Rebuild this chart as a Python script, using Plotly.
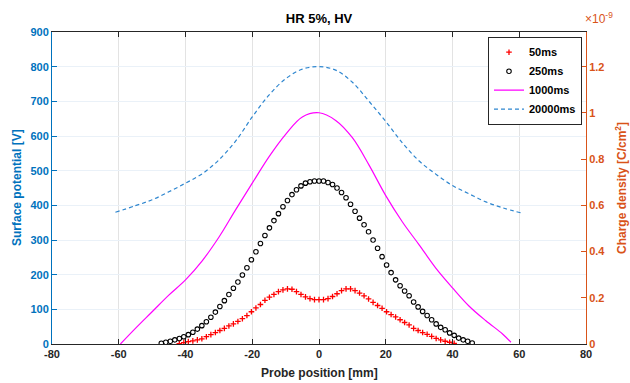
import plotly.graph_objects as go

# ---------------- data ----------------
x_grid = [-47.25, -45.9, -44.55, -43.2, -41.85, -40.5, -39.15, -37.8, -36.45, -35.1,
          -33.75, -32.4, -31.05, -29.7, -28.35, -27.0, -25.65, -24.3, -22.95, -21.6,
          -20.25, -18.9, -17.55, -16.2, -14.85, -13.5, -12.15, -10.8, -9.45, -8.1,
          -6.75, -5.4, -4.05, -2.7, -1.35, 0.0,
          1.35, 2.7, 4.05, 5.4, 6.75, 8.1, 9.45, 10.8, 12.15, 13.5,
          14.85, 16.2, 17.55, 18.9, 20.25, 21.6, 22.95, 24.3, 25.65, 27.0,
          28.35, 29.7, 31.05, 32.4, 33.75, 35.1, 36.45, 37.8, 39.15, 40.5,
          41.85, 43.2, 44.55, 45.9]

v_250ms = [2, 5, 8, 12, 16, 21, 27, 34, 43, 53,
           64, 77, 92, 108, 125, 143, 161, 179, 199, 220,
           243, 266, 290, 313, 335, 356, 376, 396, 414, 431,
           445, 456, 464, 468, 470, 470,
           470, 466, 460, 450, 437, 422, 403, 383, 363, 344,
           324, 300, 276, 252, 228, 206, 185, 168, 153, 139,
           121, 107, 94, 82, 70, 58, 48, 41, 32, 25,
           17, 12, 8, 3]

x_50ms = [-41.85, -40.5, -39.15, -37.8, -36.45, -35.1,
          -33.75, -32.4, -31.05, -29.7, -28.35, -27.0, -25.65, -24.3, -22.95, -21.6,
          -20.25, -18.9, -17.55, -16.2, -14.85, -13.5, -12.15, -10.8, -9.45, -8.1,
          -6.75, -5.4, -4.05, -2.7, -1.35, 0.0,
          1.35, 2.7, 4.05, 5.4, 6.75, 8.1, 9.45, 10.8, 12.15, 13.5,
          14.85, 16.2, 17.55, 18.9, 20.25, 21.6, 22.95, 24.3, 25.65, 27.0,
          28.35, 29.7, 31.05, 32.4, 33.75, 35.1, 36.45, 37.8, 39.15, 40.5]
v_50ms = [1, 4, 7, 9, 12, 15,
          21, 27, 33, 39, 45, 52, 58, 65, 73, 82,
          93, 104, 114, 126, 135, 143, 151, 156, 159, 158,
          151, 143, 136, 131, 128, 128,
          128, 131, 137, 145, 154, 159, 159, 154, 147, 139,
          130, 120, 111, 103, 93, 85, 78, 70, 62, 55,
          45, 39, 33, 28, 22, 16, 12, 8, 5, 2]

x_1000ms = [-59.5, -55, -50, -45, -40, -35, -30, -25, -20, -15, -10, -5, 0,
            5, 10, 15, 20, 25, 30, 35, 40, 45, 50, 55, 57.5]
v_1000ms = [0, 45, 93, 141, 185, 240, 308, 387, 464, 540, 605, 655, 667,
            645, 595, 516, 428, 352, 286, 219, 162, 109, 67, 29, 5]

x_20000ms = [-61, -55, -50, -45, -40, -35, -30, -25, -20, -15, -10, -5, 0,
             5, 10, 15, 20, 25, 30, 35, 40, 45, 50, 55, 61]
v_20000ms = [380, 399, 416, 439, 464, 491, 531, 585, 655, 718, 765, 793, 800,
             790, 755, 700, 642, 580, 528, 490, 457, 433, 410, 393, 377]

x_ticks = [-80, -60, -40, -20, 0, 20, 40, 60, 80]
y_ticks = [0, 100, 200, 300, 400, 500, 600, 700, 800, 900]
y2_ticks = [0, 0.2, 0.4, 0.6, 0.8, 1, 1.2]
y2_labels = ["0", "0.2", "0.4", "0.6", "0.8", "1", "1.2"]

BLUE = "#0072BD"
ORANGE = "#D95319"
DARK = "#262626"
FONT = "Liberation Sans, Arial, sans-serif"


def bold(values):
    return ["<b>%s</b>" % v for v in values]


fig = go.Figure()
fig.add_trace(go.Scatter(x=x_50ms, y=v_50ms, mode="markers", name="<b>50ms</b>",
                         marker=dict(symbol="cross-thin", size=4, color="red",
                                     line=dict(color="red", width=1.3))))
fig.add_trace(go.Scatter(x=x_grid, y=v_250ms, mode="markers", name="<b>250ms</b>",
                         marker=dict(symbol="circle-open", size=4.5, color="black",
                                     line=dict(color="black", width=1.1))))
fig.add_trace(go.Scatter(x=x_1000ms, y=v_1000ms, mode="lines", name="<b>1000ms</b>",
                         line=dict(color="#FF00FF", width=1.2, shape="spline")))
fig.add_trace(go.Scatter(x=x_20000ms, y=v_20000ms, mode="lines", name="<b>20000ms</b>",
                         line=dict(color="#2E86CF", width=1.2, dash="4px,3px", shape="spline")))
# empty trace to activate the right axis
fig.add_trace(go.Scatter(x=[None], y=[None], yaxis="y2", showlegend=False,
                         hoverinfo="skip", mode="lines"))

fig.update_layout(
    width=630, height=383,
    margin=dict(l=52, r=44, t=32, b=39),
    paper_bgcolor="white", plot_bgcolor="white",
    font=dict(family=FONT, size=11, color=DARK),
    title=dict(text="<b>HR 5%, HV</b>", x=0.5, xref="paper", y=0.953, yanchor="middle",
               font=dict(size=13, color="black")),
    xaxis=dict(range=[-80, 80], tickvals=x_ticks, ticktext=bold(x_ticks),
               ticks="inside", ticklen=5, automargin=False,
               tickcolor=DARK, showline=True, linecolor=DARK, linewidth=1, mirror="ticks",
               showgrid=True, gridcolor="#e3e3e3", gridwidth=1, zeroline=False,
               tickfont=dict(size=11, color=DARK, family=FONT)),
    yaxis=dict(range=[0, 900], tickvals=y_ticks, ticktext=bold(y_ticks),
               ticks="inside", ticklen=5, automargin=False,
               tickcolor=BLUE, showline=True, linecolor=BLUE, linewidth=1,
               showgrid=True, gridcolor="#eaf1f8", gridwidth=1, zeroline=False,
               tickfont=dict(size=11, color=BLUE, family=FONT)),
    yaxis2=dict(range=[0, 1.35], overlaying="y", side="right", tickvals=y2_ticks,
                ticktext=bold(y2_labels), ticks="inside", ticklen=5, tickcolor=ORANGE,
                showline=True, linecolor=ORANGE, linewidth=1, showgrid=False,
                zeroline=False, automargin=False,
                tickfont=dict(size=11, color=ORANGE, family=FONT)),
    legend=dict(x=0.9925, y=0.985, xanchor="right", yanchor="top",
                bgcolor="white", bordercolor=DARK, borderwidth=1,
                font=dict(size=11, color="black", family=FONT),
                itemwidth=30, tracegroupgap=0),
    showlegend=True,
)

# axis titles
fig.add_annotation(text="<b>Probe position [mm]</b>", xref="paper", yref="paper",
                   x=0.5, y=0, yshift=-29, xanchor="center", yanchor="middle",
                   showarrow=False, font=dict(size=12, color=DARK, family=FONT))
fig.add_annotation(text="<b>Surface potential [V]</b>", xref="paper", yref="paper",
                   x=0, y=0.5, xshift=-35, xanchor="center", yanchor="middle", textangle=-90,
                   showarrow=False, font=dict(size=12, color=BLUE, family=FONT))
fig.add_annotation(text="<b>Charge density [C/cm<sup>2</sup>]</b>", xref="paper", yref="paper",
                   x=1, y=0.5, xshift=35, xanchor="center", yanchor="middle", textangle=-90,
                   showarrow=False, font=dict(size=12, color=ORANGE, family=FONT))
fig.add_annotation(text="×10<sup>-9</sup>", xref="paper", yref="paper",
                   x=1.0, y=1.0, xanchor="left", yanchor="bottom", showarrow=False,
                   xshift=-3, yshift=4, font=dict(size=12, color=ORANGE, family=FONT))

fig.write_html("out.html", config={"displayModeBar": False},
               post_script="document.body.style.margin='0';document.body.style.padding='0';")
